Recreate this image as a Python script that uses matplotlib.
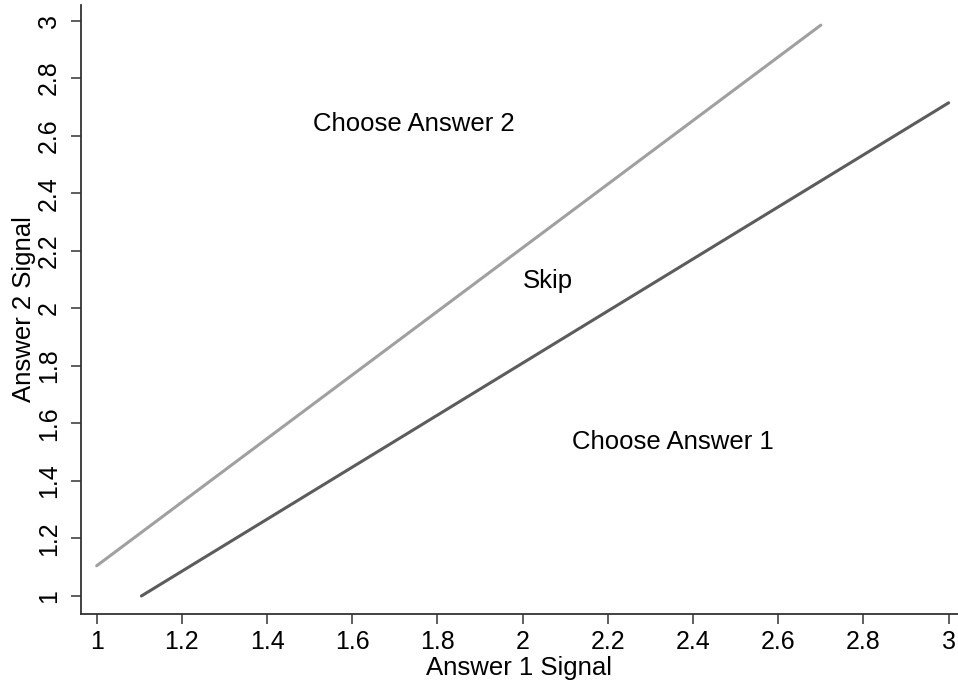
import numpy as np
import matplotlib.pyplot as plt

plt.rcParams['font.family'] = ['Liberation Sans', 'DejaVu Sans']

#===========================================================
# --- Données ----------------------------------------------
#===========================================================

# frontière haute : au-dessus -> choisir la réponse 2
haut_x = [1.0, 2.7]
haut_y = [1.105, 2.984]

# frontière basse : au-dessous -> choisir la réponse 1
bas_x = [1.105, 3.0]
bas_y = [1.0, 2.714]

etiquettes = ["Choose Answer 2", "Skip", "Choose Answer 1"]
etiq_x = [1.745, 2.06, 2.352]
etiq_y = [2.64, 2.095, 1.535]

ticks = [1, 1.2, 1.4, 1.6, 1.8, 2, 2.2, 2.4, 2.6, 2.8, 3]
tick_labels = ["1", "1.2", "1.4", "1.6", "1.8", "2", "2.2", "2.4", "2.6", "2.8", "3"]

#===========================================================
# --- Figure -----------------------------------------------
#===========================================================

fig = plt.figure(figsize=(9.58, 6.83), dpi=100)
ax = fig.add_axes([0.0842, 0.1015, 0.9158, 0.8912])

ax.plot(haut_x, haut_y, color='#a0a0a0', lw=2.2, solid_capstyle='round')
ax.plot(bas_x, bas_y, color='#5c5c5c', lw=2.2, solid_capstyle='round')

for txt, x, y in zip(etiquettes, etiq_x, etiq_y):
    ax.text(x, y, txt, ha='center', va='center', fontsize=18.5, color='black')

ax.set_xlim(0.9624, 3.022)
ax.set_ylim(0.9385, 3.054)

ax.set_xticks(ticks)
ax.set_xticklabels(tick_labels)
ax.set_yticks(ticks)
ax.set_yticklabels(tick_labels, rotation=90, va='center')

for s in ['top', 'right']:
    ax.spines[s].set_visible(False)
for s in ['left', 'bottom']:
    ax.spines[s].set_color('#333333')
    ax.spines[s].set_linewidth(1.3)

ax.tick_params(axis='both', length=7, width=1.1, color='#333333', labelsize=18)
ax.tick_params(axis='x', pad=5)
ax.tick_params(axis='y', pad=7)

ax.set_xlabel('Answer 1 Signal', fontsize=18.5, labelpad=1)
ax.set_ylabel('Answer 2 Signal', fontsize=18.5, labelpad=1)

fig.savefig('out.png', dpi=100)
